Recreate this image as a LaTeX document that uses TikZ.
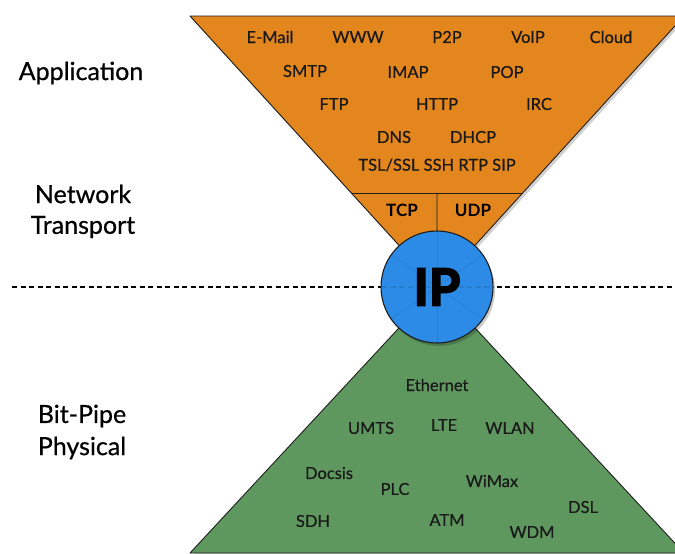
\documentclass[tikz,border=0pt]{standalone}
\usepackage{fontspec}
\setmainfont{Lato}[UprightFeatures={FakeBold=0.6}]
\newfontfamily\ipfont{Lato}[BoldFeatures={FakeBold=3.5}]
\usetikzlibrary{calc}
\definecolor{apporange}{HTML}{E3861E}
\definecolor{phygreen}{HTML}{5F985F}
\definecolor{ipblue}{HTML}{2B8BE6}
\definecolor{edge}{HTML}{1E1E1E}
\tikzset{
  layerlabel/.style={font=\fontsize{25}{28}\selectfont, align=center, text=black},
  proto/.style={font=\fontsize{16.5}{18}\selectfont, text=black!90, inner sep=0pt},
  protobold/.style={font=\fontsize{17}{18}\selectfont\bfseries, text=black, inner sep=0pt},
  funnel/.style={draw=edge, line width=0.9pt, line join=round},
  shade/.style={fill=black, opacity=0.18},
}
\begin{document}
\begin{tikzpicture}[x=1pt,y=-1pt]
\useasboundingbox (0,0) rectangle (675,554);
\fill[white] (0,0) rectangle (675,554);

% key points of the hourglass
\coordinate (ap) at (437,287);
\coordinate (tl) at (190,16);
\coordinate (tr) at (684,16);
\coordinate (bl) at (190,553);
\coordinate (br) at (684,553);
\coordinate (divL) at ($(tl)!0.653!(ap)$);
\coordinate (divR) at ($(tr)!0.653!(ap)$);
\coordinate (divM) at ($(divL)!0.5!(divR)$);

% separator between upper and lower half
\coordinate (dashL) at (12,287);
\coordinate (dashR) at (675,287);
\draw[line width=1.4pt, dash pattern=on 5pt off 3.5pt] (dashL) -- (dashR);

% soft shadows
\fill[shade] ($(tl)+(2,3)$) -- ($(tr)+(2,3)$) -- ($(ap)+(2,3)$) -- cycle;
\fill[shade] ($(bl)+(2,3)$) -- ($(br)+(2,3)$) -- ($(ap)+(2,3)$) -- cycle;

% application funnel
\filldraw[funnel, fill=apporange] (tl) -- (tr) -- (ap) -- cycle;
\draw[funnel] (divL) -- (divR);
\draw[funnel] (divM) -- (ap);

% physical funnel
\filldraw[funnel, fill=phygreen] (bl) -- (br) -- (ap) -- cycle;

% IP circle
\fill[black, opacity=0.2] ($(ap)+(2,3)$) circle (56);
\filldraw[fill=ipblue, draw=edge, line width=1.1pt] (ap) circle (56);
\foreach \a in {90,35,145,215,325,270}
  \draw[black, opacity=0.08, line width=0.8pt] (ap) -- ++(\a:55);
\draw[black, opacity=0.1, line width=1.2pt, dash pattern=on 5pt off 3.5pt]
  ($(ap)+(-55,0)$) -- ($(ap)+(55,0)$);
\node[font=\fontsize{51}{51}\selectfont\ipfont\bfseries, text=black, inner sep=0pt] (ip) at (437,287) {IP};

% layer names
\node[layerlabel] (app) at (81,73) {Application};
\node[layerlabel] (net) at (83,194) {Network};
\node[layerlabel] (trans) at (83,227) {Transport};
\node[layerlabel] (bit) at (82,416) {Bit-Pipe};
\node[layerlabel] (phys) at (82,448) {Physical};

% application protocols
\node[proto] (email) at (270,37) {E-Mail};
\node[proto] (www) at (358,37) {WWW};
\node[proto] (ptp) at (447,37) {P2P};
\node[proto] (voip) at (528,37) {VoIP};
\node[proto] (cloud) at (611,37) {Cloud};
\node[proto] (smtp) at (305,71) {SMTP};
\node[proto] (imap) at (408,72) {IMAP};
\node[proto] (pop) at (507,72) {POP};
\node[proto] (ftp) at (334,104) {FTP};
\node[proto] (http) at (437,104) {HTTP};
\node[proto] (irc) at (539,104) {IRC};
\node[proto] (dns) at (394,137) {DNS};
\node[proto] (dhcp) at (473,137) {DHCP};
\node[proto] (sec) at (437,165) {TSL/SSL SSH RTP SIP};

% transport protocols
\node[protobold] (tcp) at (402,210) {TCP};
\node[protobold] (udp) at (473,210) {UDP};

% link and physical technologies
\node[proto] (eth) at (437,385) {Ethernet};
\node[proto] (umts) at (371,428) {UMTS};
\node[proto] (lte) at (444,425) {LTE};
\node[proto] (wlan) at (510,428) {WLAN};
\node[proto] (docsis) at (329,473) {Docsis};
\node[proto] (plc) at (395,489) {PLC};
\node[proto] (wimax) at (492,481) {WiMax};
\node[proto] (dsl) at (583,507) {DSL};
\node[proto] (sdh) at (313,521) {SDH};
\node[proto] (atm) at (447,520) {ATM};
\node[proto] (wdm) at (532,532) {WDM};
\end{tikzpicture}
\end{document}
